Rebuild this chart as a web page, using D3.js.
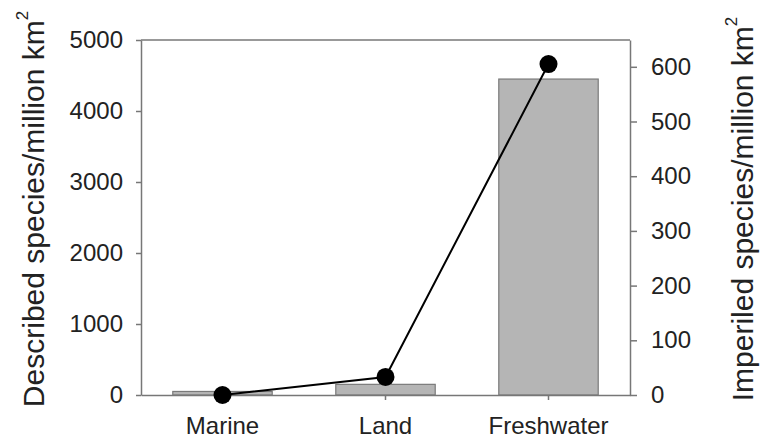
<!DOCTYPE html>
<html lang="en">
<head>
    <meta charset="UTF-8">
    <title>Described and imperiled species per million km2</title>
    <script src="https://d3js.org/d3.v7.min.js"></script>
    <style>
        body {
            margin: 0;
            background: #fff;
            font-family: "Liberation Sans", Arial, sans-serif;
        }
        .axis path, .axis line {
            stroke: #777;
            stroke-width: 1.5px;
        }
        .axis text {
            fill: #222;
            font-size: 24px;
            font-family: "Liberation Sans", Arial, sans-serif;
        }
        .axis-label {
            font-size: 30px;
            fill: #222;
        }
    </style>
</head>
<body>
    <svg width="762" height="442"></svg>

    <script>
        // data
        const habitats = ["Marine", "Land", "Freshwater"];
        const described = [50, 150, 4450];     // bars, left axis
        const imperiled = [0, 33, 605];        // line, right axis
        const leftTicks = [0, 1000, 2000, 3000, 4000, 5000];
        const rightTicks = [0, 100, 200, 300, 400, 500, 600];

        const svg = d3.select("svg"),
              plotLeft = 141, plotRight = 630, plotTop = 40, plotBottom = 395;

        const x = d3.scaleBand()
            .domain(habitats)
            .range([plotLeft, plotRight])
            .paddingInner(0.39)
            .paddingOuter(0.195);
        const yL = d3.scaleLinear().domain([0, 5000]).range([plotBottom, plotTop]);
        const yR = d3.scaleLinear().domain([0, 649]).range([plotBottom, plotTop]);

        // bars
        svg.append("g")
          .selectAll("rect")
          .data(habitats)
          .join("rect")
            .attr("x", d => x(d))
            .attr("width", x.bandwidth())
            .attr("y", (d, i) => yL(described[i]))
            .attr("height", (d, i) => plotBottom - yL(described[i]))
            .attr("fill", "#b5b5b5")
            .attr("stroke", "#7a7a7a")
            .attr("stroke-width", 1.2);

        // frame top
        svg.append("line")
            .attr("x1", plotLeft).attr("x2", plotRight)
            .attr("y1", plotTop).attr("y2", plotTop)
            .attr("stroke", "#777").attr("stroke-width", 1.5);

        // axes
        svg.append("g")
            .attr("class", "axis")
            .attr("transform", `translate(${plotLeft},0)`)
            .call(d3.axisLeft(yL).tickValues(leftTicks).tickFormat(d3.format("d"))
                .tickSize(5).tickSizeOuter(0).tickPadding(13));

        svg.append("g")
            .attr("class", "axis")
            .attr("transform", `translate(${plotRight},0)`)
            .call(d3.axisRight(yR).tickValues(rightTicks).tickFormat(d3.format("d"))
                .tickSize(7).tickSizeOuter(0).tickPadding(14));

        svg.append("g")
            .attr("class", "axis")
            .attr("transform", `translate(0,${plotBottom})`)
            .call(d3.axisBottom(x).tickSize(5).tickSizeOuter(0).tickPadding(17));

        // line + markers
        const pts = habitats.map((h, i) => [x(h) + x.bandwidth() / 2, yR(imperiled[i])]);
        svg.append("path")
            .attr("d", d3.line()(pts))
            .attr("fill", "none")
            .attr("stroke", "#000")
            .attr("stroke-width", 2);

        svg.append("g")
          .selectAll("circle")
          .data(pts)
          .join("circle")
            .attr("cx", d => d[0])
            .attr("cy", d => d[1])
            .attr("r", 9)
            .attr("fill", "#000");

        // axis titles
        function title(xPos, yPos, main) {
            const t = svg.append("text")
                .attr("class", "axis-label")
                .attr("transform", `translate(${xPos},${yPos}) rotate(-90)`)
                .attr("text-anchor", "middle");
            t.append("tspan").text(main);
            t.append("tspan")
                .attr("dy", -16)
                .style("font-size", "17px")
                .text("2");
        }
        title(44, 209, "Described species/million km");
        title(753, 209, "Imperiled species/million km");
    </script>
</body>
</html>
